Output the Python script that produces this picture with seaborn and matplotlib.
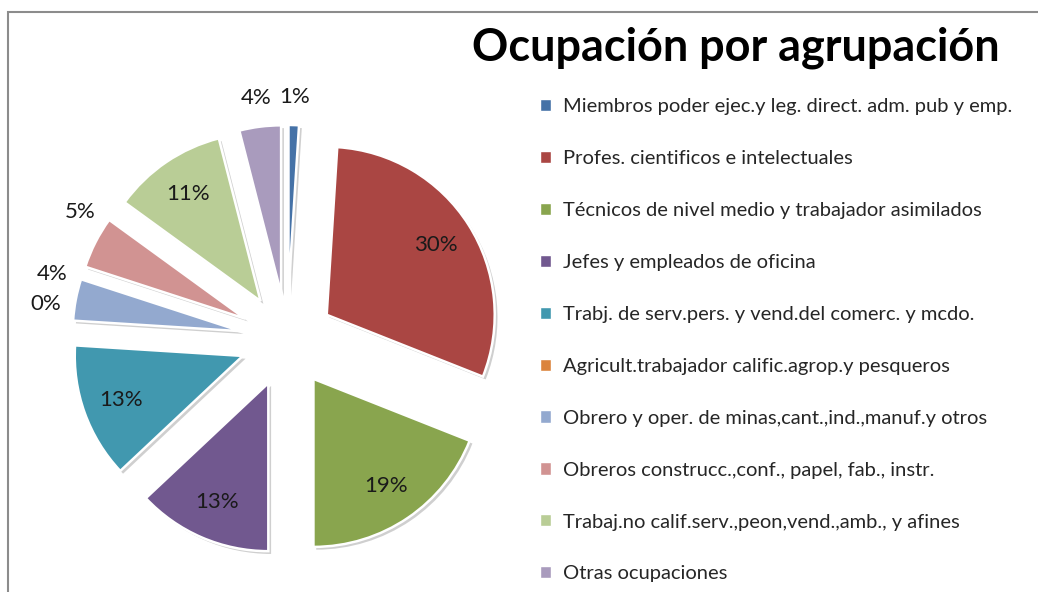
import numpy as np
import matplotlib
matplotlib.use("Agg")
import matplotlib.pyplot as plt
import matplotlib.patheffects as pe
from matplotlib.patches import Patch, Rectangle
import seaborn as sns

# Data
categories = [
    "Miembros poder ejec.y leg. direct. adm. pub y emp.",
    "Profes. cientificos e intelectuales",
    "Técnicos de nivel medio y trabajador asimilados",
    "Jefes y empleados de oficina",
    "Trabj. de serv.pers. y vend.del comerc. y mcdo.",
    "Agricult.trabajador calific.agrop.y pesqueros",
    "Obrero y oper. de minas,cant.,ind.,manuf.y otros",
    "Obreros construcc.,conf., papel, fab., instr.",
    "Trabaj.no calif.serv.,peon,vend.,amb., y afines",
    "Otras ocupaciones",
]
percent = [1, 30, 19, 13, 13, 0, 4, 5, 11, 4]
colors = ["#4572A7", "#AA4643", "#89A54E", "#71588F", "#4198AF",
          "#DB843D", "#93A9CF", "#D19392", "#B9CD96", "#A99BBD"]

sns.set_theme(style="white")
plt.rcParams["font.family"] = ["Lato", "DejaVu Sans"]

W, H = 1038, 592
fig = plt.figure(figsize=(W / 100, H / 100), dpi=100)
fig.patch.set_facecolor("white")

# chart frame (cut off at right and bottom like the screenshot)
fig.add_artist(Rectangle((8 / W, -0.05), 1.1, (H - 12) / H + 0.05,
                         transform=fig.transFigure, fill=False,
                         edgecolor="#8c8c8c", linewidth=1.5))

# pie axes: center ~ (287, 340) px, radius ~168 px
k = 1.75
r_px = 168
cx, cy = 287, H - 340
side = 2 * k * r_px
ax = fig.add_axes([(cx - side / 2) / W, (cy - side / 2) / H, side / W, side / H])

explode = [0.28] * len(percent)
wedges, _ = ax.pie(percent, colors=colors, explode=explode, startangle=90,
                   counterclock=False, radius=1,
                   wedgeprops=dict(edgecolor="white", linewidth=1.8))
ax.set_xlim(-k, k)
ax.set_ylim(-k, k)
ax.set_aspect("equal")
ax.axis("off")

for w in wedges:
    w.set_path_effects([pe.SimplePatchShadow(offset=(2, -2), shadow_rgbFace="#777777", alpha=0.35),
                        pe.Normal()])

for w, p in zip(wedges, percent):
    mid = (w.theta1 + w.theta2) / 2
    x0, y0 = w.center
    if p >= 10:
        dist = 0.77
    else:
        dist = 1.17
        # small labels on the left side are nudged upward (best-fit style)
        if 135 < mid % 360 < 225:
            mid -= 6
    mid = np.deg2rad(mid)
    ax.text(x0 + dist * np.cos(mid), y0 + dist * np.sin(mid), f"{p}%",
            ha="center", va="center", fontsize=16, color="#1a1a1a")

fig.text(736 / W, 1 - 48 / H, "Ocupación por agrupación", ha="center", va="center",
         fontsize=32.4, fontweight="bold", color="black")

handles = [Patch(facecolor=c) for c in colors]
fig.legend(handles, categories, loc="upper left", bbox_to_anchor=(540 / W, 1 - 98 / H),
           frameon=False, fontsize=14.5, handlelength=0.55, handleheight=0.55,
           handletextpad=0.6, labelspacing=1.735, borderpad=0, borderaxespad=0)

fig.savefig("out.png", dpi=100)
